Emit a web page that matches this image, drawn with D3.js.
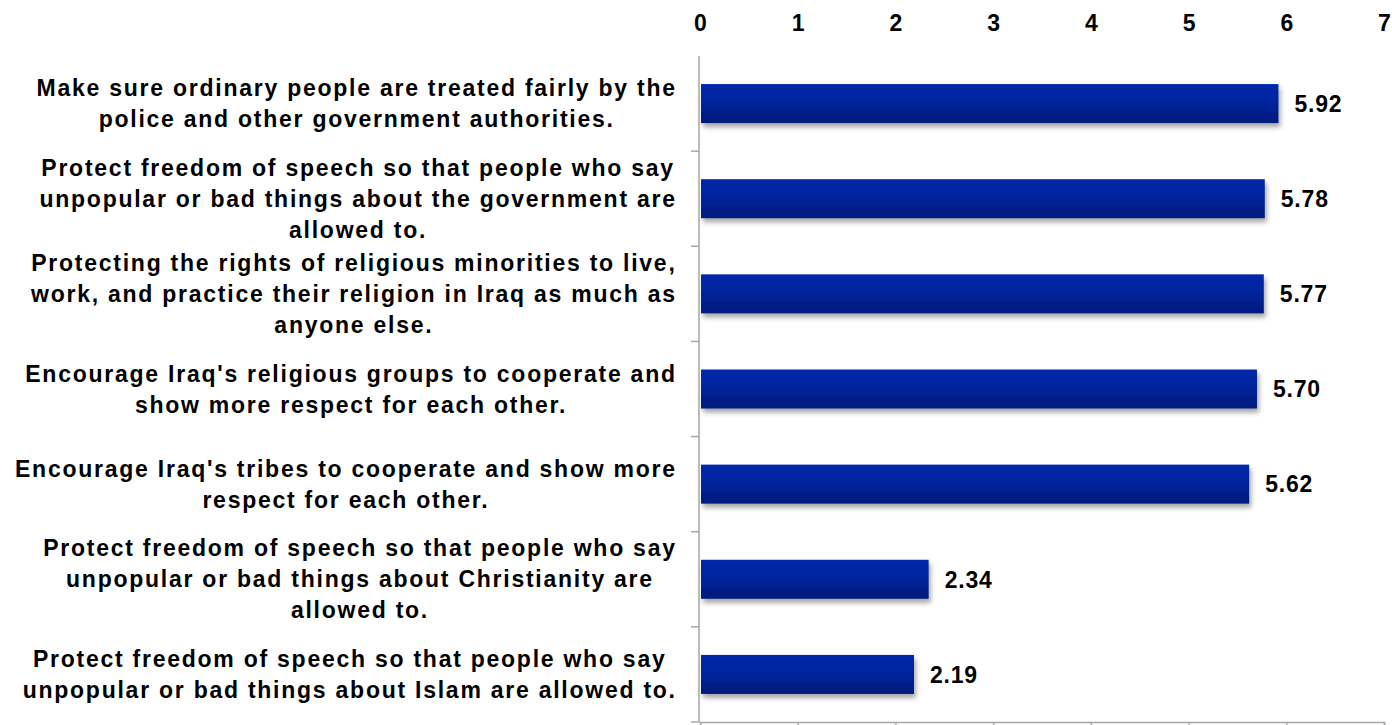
<!DOCTYPE html>
<html><head><meta charset="utf-8">
<script src="https://cdn.jsdelivr.net/npm/d3@7"></script>
<style>
html,body{margin:0;padding:0;background:#fff;}
text{font-family:"Liberation Sans",Arial,Helvetica,sans-serif;font-weight:bold;fill:#000;}
</style></head>
<body><svg id="chart" width="1392" height="725"></svg>
<script>
const categories = [
  ["Make sure ordinary people are treated fairly by the", "police and other government authorities."],
  ["Protect freedom of speech so that people who say", "unpopular or bad things about the government are", "allowed to."],
  ["Protecting the rights of religious minorities to live,", "work, and practice their religion in Iraq as much as", "anyone else."],
  ["Encourage Iraq's religious groups to cooperate and", "show more respect for each other."],
  ["Encourage Iraq's tribes to cooperate and show more", "respect for each other."],
  ["Protect freedom of speech so that people who say", "unpopular or bad things about Christianity are", "allowed to."],
  ["Protect freedom of speech so that people who say", "unpopular or bad things about Islam are allowed to."]
];
const values = [5.92, 5.78, 5.77, 5.70, 5.62, 2.34, 2.19];
const valueLabels = ["5.92", "5.78", "5.77", "5.70", "5.62", "2.34", "2.19"];
const xTicks = [0, 1, 2, 3, 4, 5, 6, 7];

const svg = d3.select("#chart");
const x = d3.scaleLinear().domain([0, 7]).range([700, 1384]);
const y = d3.scaleBand().domain(d3.range(categories.length)).range([56, 722]).paddingInner(0.59).paddingOuter(0.295);
const yBand = d3.scaleBand().domain(d3.range(categories.length)).range([56, 722]);

const defs = svg.append("defs");
const grad = defs.append("linearGradient").attr("id", "barGrad").attr("x1", 0).attr("y1", 0).attr("x2", 0).attr("y2", 1);
grad.append("stop").attr("offset", "0%").attr("stop-color", "#0029a9");
grad.append("stop").attr("offset", "35%").attr("stop-color", "#0026a2");
grad.append("stop").attr("offset", "100%").attr("stop-color", "#001a7c");
const f = defs.append("filter").attr("id", "shadow").attr("x", "-5%").attr("y", "-30%").attr("width", "115%").attr("height", "180%");
f.append("feDropShadow").attr("dx", 2).attr("dy", 4).attr("stdDeviation", 2.5).attr("flood-color", "#000").attr("flood-opacity", 0.35);

// bars
svg.append("g").selectAll("rect").data(values).join("rect")
  .attr("x", x(0) + 1)
  .attr("y", (d, i) => y(i))
  .attr("width", d => x(d) - x(0) - 1)
  .attr("height", y.bandwidth())
  .attr("fill", "url(#barGrad)")
  .attr("filter", "url(#shadow)");

// value labels
svg.append("g").selectAll("text").data(values).join("text")
  .attr("x", d => x(d) + 16)
  .attr("y", (d, i) => y(i) + y.bandwidth() / 2)
  .attr("dy", "0.36em")
  .style("font-size", "23px")
  .style("letter-spacing", "0.8px")
  .text((d, i) => valueLabels[i]);

// top tick labels
const topAxis = d3.axisTop(x).tickValues(xTicks).tickSize(0).tickPadding(0).tickFormat(d3.format("d"));
const gTop = svg.append("g").attr("transform", "translate(0,31)").call(topAxis);
gTop.select(".domain").remove();
gTop.selectAll("text").style("font-size", "23px").style("font-family", null).attr("fill", "#000");

// bottom axis line with ticks
const botAxis = d3.axisBottom(x).tickValues(xTicks).tickSize(4).tickFormat("");
const gBot = svg.append("g").attr("transform", "translate(0,722)").call(botAxis);
gBot.select(".domain").attr("stroke", "#a6a6a6").attr("stroke-width", 1.5);
gBot.selectAll(".tick line").attr("stroke", "#a6a6a6").attr("stroke-width", 1.5);

// left axis with boundary ticks
const leftAxisG = svg.append("g");
leftAxisG.append("line").attr("x1", 699).attr("x2", 699).attr("y1", yBand.range()[0]).attr("y2", 722)
  .attr("stroke", "#a6a6a6").attr("stroke-width", 1.5);
leftAxisG.selectAll("line.t").data(d3.range(1, categories.length + 1)).join("line").attr("class", "t")
  .attr("x1", 691).attr("x2", 699)
  .attr("y1", i => yBand(0) + i * yBand.step()).attr("y2", i => yBand(0) + i * yBand.step())
  .attr("stroke", "#a6a6a6").attr("stroke-width", 1.5);

// category labels
const lineH = 31;
const rightEdge = 675;
const ls = 1.75;
const labG = svg.append("g");
categories.forEach((lines, i) => {
  const cy = yBand(i) + yBand.bandwidth() / 2;
  const t = labG.append("text").style("font-size", "23px").style("letter-spacing", ls + "px").attr("text-anchor", "start");
  const spans = lines.map((ln, k) => t.append("tspan").attr("y", cy + (k - (lines.length - 1) / 2) * lineH).attr("dy", "0.35em").attr("x", 0).text(ln));
  const widths = spans.map(s => s.node().getComputedTextLength() - ls);
  const maxW = d3.max(widths);
  const center = rightEdge - maxW / 2;
  spans.forEach((s, k) => s.attr("x", center - widths[k] / 2));
});
</script>
</body></html>
